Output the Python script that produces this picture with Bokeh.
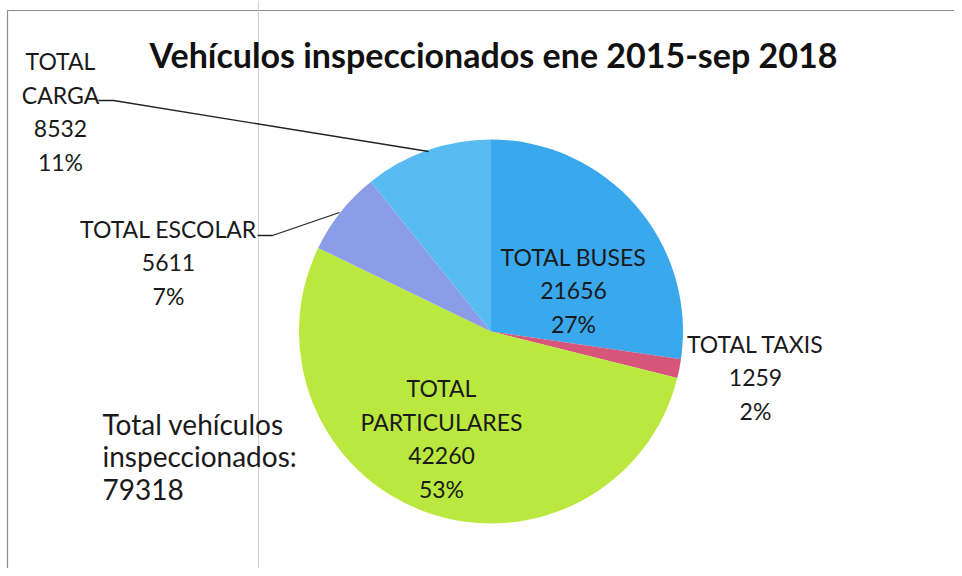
import math
from bokeh.plotting import figure
from bokeh.models import ColumnDataSource
from bokeh.core.properties import value
from bokeh.embed import file_html
from bokeh.resources import INLINE

# ---- data ----
categories = ["TOTAL BUSES", "TOTAL TAXIS", "TOTAL PARTICULARES", "TOTAL ESCOLAR", "TOTAL CARGA"]
counts = [21656, 1259, 42260, 5611, 8532]
title_text = "Vehículos inspeccionados ene 2015-sep 2018"
total_label = "Total vehículos\ninspeccionados:"

# ---- style / layout ----
colors = ["#3AA8EC", "#D8557A", "#BBE83E", "#8C9DE8", "#58BCF2"]
wrap_name = [False, False, True, False, True]
label_pos = [(573, 290), (755, 377), (441, 438), (168, 262), (60, 111)]  # screen px
FONT = "Lato"
W, H = 954, 568


def X(xs):
    return xs


def Y(ys):
    return H - ys


p = figure(width=W, height=H, x_range=(0, W), y_range=(0, H),
           output_backend="svg", toolbar_location=None, min_border=0)
p.axis.visible = False
p.grid.visible = False
p.outline_line_color = None
p.background_fill_color = "white"

# frame (left and top border of the scanned chart area) and scan artefact line
p.line(x=[X(7), X(7), X(W)], y=[0, Y(10), Y(10)], line_color="#8a8a8a", line_width=1.2)
p.line(x=[X(258), X(258)], y=[0, H], line_color="#cfcfcf", line_width=1)

total = sum(counts)
starts, ends = [], []
acc = 0.0
for c in counts:
    a0 = math.pi / 2 - 2 * math.pi * acc / total
    acc += c
    a1 = math.pi / 2 - 2 * math.pi * acc / total
    starts.append(a0)
    ends.append(a1)

cx, cy, r = X(490.5), Y(331), 192
src = ColumnDataSource(dict(start=starts, end=ends, color=colors))
p.wedge(x=cx, y=cy, radius=r, radius_units="screen", start_angle="start",
        end_angle="end", direction="clock", fill_color="color", line_color=None,
        source=src)

# leader lines
p.line(x=[X(98), X(113), X(428)], y=[Y(100), Y(100), Y(151)], line_color="#222", line_width=1.3)
p.line(x=[X(257), X(272), X(339)], y=[Y(235), Y(235), Y(212)], line_color="#222", line_width=1.3)

# data labels
texts = []
for name, cnt, wrap in zip(categories, counts, wrap_name):
    pct = round(cnt / total * 100)
    nm = name.replace(" ", "\n") if wrap else name
    texts.append(f"{nm}\n{cnt}\n{pct}%")
lx = [X(a) for a, b in label_pos]
ly = [Y(b) for a, b in label_pos]
p.text(x=lx, y=ly, text=texts, text_align="center", text_baseline="middle",
       text_font=value(FONT), text_font_size="23px", text_color="#1a1a1a",
       text_line_height=1.2)

# total annotation
p.text(x=[X(102)], y=[Y(456)], text=[f"{total_label}\n{total}"], text_align="left",
       text_baseline="middle", text_font=value(FONT), text_font_size="28px",
       text_color="#1a1a1a", text_line_height=0.97)

# title
p.text(x=[X(493)], y=[Y(54)], text=[title_text], text_align="center",
       text_baseline="middle", text_font=value(FONT), text_font_size="34px",
       text_font_style="bold", text_color="#111")

open("out.html", "w").write(file_html(p, INLINE))
